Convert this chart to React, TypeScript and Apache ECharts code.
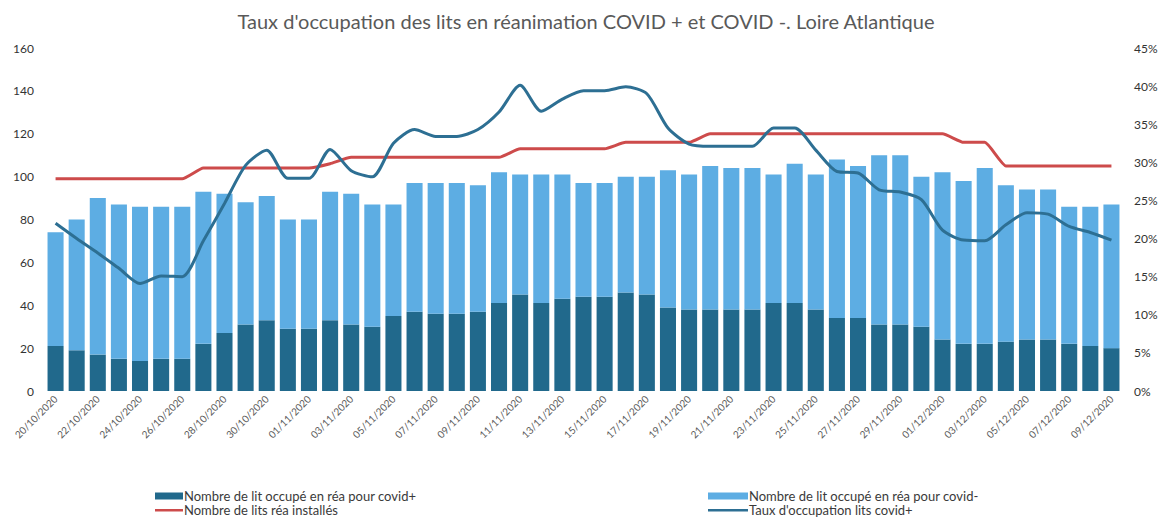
import React, { useEffect, useRef } from "react";
import * as echarts from "echarts";

const dates = [
  "20/10/2020", "21/10/2020", "22/10/2020", "23/10/2020", "24/10/2020", "25/10/2020", "26/10/2020",
  "27/10/2020", "28/10/2020", "29/10/2020", "30/10/2020", "31/10/2020", "01/11/2020", "02/11/2020",
  "03/11/2020", "04/11/2020", "05/11/2020", "06/11/2020", "07/11/2020", "08/11/2020", "09/11/2020",
  "10/11/2020", "11/11/2020", "12/11/2020", "13/11/2020", "14/11/2020", "15/11/2020", "16/11/2020",
  "17/11/2020", "18/11/2020", "19/11/2020", "20/11/2020", "21/11/2020", "22/11/2020", "23/11/2020",
  "24/11/2020", "25/11/2020", "26/11/2020", "27/11/2020", "28/11/2020", "29/11/2020", "30/11/2020",
  "01/12/2020", "02/12/2020", "03/12/2020", "04/12/2020", "05/12/2020", "06/12/2020", "07/12/2020",
  "08/12/2020", "09/12/2020",
];

const covidPlus = [
  21, 19, 17, 15, 14, 15, 15, 22, 27, 31, 33, 29, 29, 33, 31, 30, 35, 37, 36, 36, 37, 41, 45, 41, 43, 44,
  44, 46, 45, 39, 38, 38, 38, 38, 41, 41, 38, 34, 34, 31, 31, 30, 24, 22, 22, 23, 24, 24, 22, 21, 20,
];

const covidMinus = [
  53, 61, 73, 72, 72, 71, 71, 71, 65, 57, 58, 51, 51, 60, 61, 57, 52, 60, 61, 61, 59, 61, 56, 60, 58, 53,
  53, 54, 55, 64, 63, 67, 66, 66, 60, 65, 63, 74, 71, 79, 79, 70, 78, 76, 82, 73, 70, 70, 64, 65, 67,
];

const litsInstalles = [
  99, 99, 99, 99, 99, 99, 99, 104, 104, 104, 104, 104, 104, 106, 109, 109, 109, 109, 109, 109, 109, 109,
  113, 113, 113, 113, 113, 116, 116, 116, 116, 120, 120, 120, 120, 120, 120, 120, 120, 120, 120, 120, 120,
  116, 116, 105, 105, 105, 105, 105, 105,
];

const tauxCovidPlus = [
  22, 20, 18.1, 16.1, 14.1, 15.1, 15, 19.7, 24.6, 29.6, 31.6, 27.9, 27.9, 31.7, 28.9, 28.1, 32.5, 34.3,
  33.4, 33.4, 34.3, 36.6, 40.1, 36.7, 38.3, 39.4, 39.4, 39.9, 39.0, 34.5, 32.4, 32.1, 32.1, 32.1, 34.5,
  34.5, 31.6, 28.8, 28.6, 26.4, 26.1, 25.1, 21.1, 19.8, 19.7, 21.8, 23.4, 23.2, 21.6, 20.8, 19.8,
];

const leftTicks = { min: 0, max: 160, interval: 20 };
const rightTicks = { min: 0, max: 45, interval: 5 };

const names = {
  plus: "Nombre de lit occupé en réa pour covid+",
  minus: "Nombre de lit occupé en réa pour covid-",
  lits: "Nombre de lits réa installés",
  taux: "Taux d'occupation lits covid+",
};

const FONT = "Lato, 'Open Sans', sans-serif";

export default function App() {
  const ref = useRef<HTMLDivElement>(null);
  useEffect(() => {
    if (!ref.current) return;
    const chart = echarts.init(ref.current, undefined, { renderer: "svg" });
    const legendText = {
      fontFamily: FONT,
      fontSize: 13,
      lineHeight: 14,
      color: "#3a3a3a",
      padding: [0, 0, 0, -4],
    };
    chart.setOption({
      animation: false,
      backgroundColor: "#ffffff",
      textStyle: { fontFamily: FONT },
      title: {
        text: "Taux d'occupation des lits en réanimation COVID + et COVID -. Loire Atlantique",
        left: "center",
        top: 6,
        textStyle: { fontFamily: FONT, fontSize: 20, fontWeight: "normal", color: "#595959" },
      },
      legend: [
        {
          left: 155,
          top: 489,
          orient: "vertical",
          itemGap: 0,
          itemWidth: 28,
          itemHeight: 7,
          padding: 0,
          textStyle: legendText,
          data: [
            { name: names.plus, icon: "rect" },
            { name: names.lits, icon: "path://M0,0M28,7M0,2.5h28v2.5h-28z" },
          ],
        },
        {
          left: 708,
          top: 489,
          orient: "vertical",
          itemGap: 0,
          itemWidth: 40,
          itemHeight: 7,
          padding: 0,
          textStyle: legendText,
          data: [
            { name: names.minus, icon: "rect" },
            { name: names.taux, icon: "path://M0,0M40,7M0,2.5h40v2.5h-40z" },
          ],
        },
      ],
      grid: { left: 45, right: 50, top: 48, bottom: 137, containLabel: false },
      xAxis: {
        type: "category",
        data: dates,
        axisLine: { show: false },
        axisTick: { show: false },
        axisLabel: {
          interval: 1,
          rotate: 45,
          fontSize: 10,
          color: "#595959",
          margin: 6,
          fontFamily: FONT,
        },
      },
      yAxis: [
        {
          type: "value",
          ...leftTicks,
          splitLine: { show: false },
          axisLine: { show: false },
          axisTick: { show: false },
          axisLabel: { fontSize: 12, color: "#333333", margin: 11, fontFamily: FONT },
        },
        {
          type: "value",
          ...rightTicks,
          position: "right",
          splitLine: { show: false },
          axisLine: { show: false },
          axisTick: { show: false },
          axisLabel: { fontSize: 12, color: "#333333", margin: 12, formatter: "{value}%", fontFamily: FONT },
        },
      ],
      series: [
        {
          name: names.plus,
          type: "bar",
          stack: "beds",
          data: covidPlus,
          barCategoryGap: "24%",
          itemStyle: { color: "#21698c" },
        },
        {
          name: names.minus,
          type: "bar",
          stack: "beds",
          data: covidMinus,
          barCategoryGap: "24%",
          itemStyle: { color: "#5dade3" },
        },
        {
          name: names.lits,
          type: "line",
          data: litsInstalles,
          symbol: "none",
          smooth: 0.15,
          lineStyle: { color: "#cd4b4b", width: 3 },
          itemStyle: { color: "#cd4b4b" },
        },
        {
          name: names.taux,
          type: "line",
          yAxisIndex: 1,
          data: tauxCovidPlus,
          symbol: "none",
          smooth: 0.25,
          lineStyle: { color: "#2d6f93", width: 3 },
          itemStyle: { color: "#2d6f93" },
        },
      ],
    });
    return () => chart.dispose();
  }, []);
  return (
    <div
      ref={ref}
      style={{ position: "fixed", left: 0, top: 0, width: 1172, height: 528, background: "#fff" }}
    />
  );
}
